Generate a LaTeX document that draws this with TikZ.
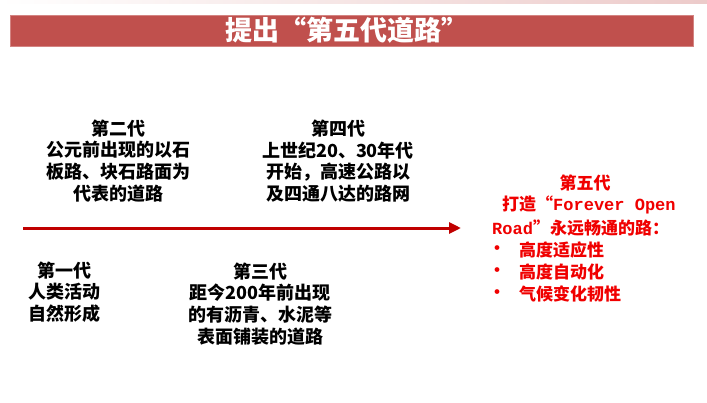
\documentclass[tikz,border=0pt]{standalone}
\usepackage{fontspec}
\setmainfont{Noto Sans CJK SC}
\newfontfamily\monofnt{Liberation Mono}
\usetikzlibrary{arrows.meta}
\definecolor{barred}{HTML}{C0504D}
\definecolor{arrowred}{HTML}{C00000}
\definecolor{txtred}{HTML}{F00000}
\tikzset{
  blk/.style={align=center, inner sep=0pt, font=\fontsize{18}{21.7}\selectfont\bfseries, text=black},
  redln/.style={anchor=west, inner sep=0pt, font=\fontsize{17}{21.7}\selectfont\bfseries, text=txtred},
}
\begin{document}
\begin{tikzpicture}[x=1pt,y=-1pt]
\useasboundingbox (0,0) rectangle (707,402);
\fill[white] (0,0) rectangle (707,402);
\shade[left color=white, right color=barred!30] (0,0) rectangle (707,3);
\node[fill=barred, draw=barred!70, minimum width=683pt, minimum height=31pt, inner sep=0pt] (bar) at (351.5,30.5) {};
\node[inner sep=0pt, font=\fontsize{27}{29}\selectfont\bfseries, text=white] (title) at (347,30.5) {提出“第五代道路”};

\coordinate (s) at (23,228);
\coordinate (e) at (461,228);
\draw[arrowred, line width=3pt, -{Triangle[length=12pt,width=11pt]}] (s) -- (e);

\node[blk] (g2) at (118,161) {第二代\\公元前出现的以石\\板路、块石路面为\\代表的道路};
\node[blk] (g4) at (338,161) {第四代\\上世纪20、30年代\\开始，高速公路以\\及四通八达的路网};
\node[blk] (g1) at (64,292) {第一代\\人类活动\\自然形成};
\node[blk] (g3) at (260,304) {第三代\\距今200年前出现\\的有沥青、水泥等\\表面铺装的道路};

\node[redln, anchor=center] (g5) at (585,183) {第五代};
\node[redln] (g5a) at (502,205) {打造“{\monofnt\bfseries Forever Open}};
\node[redln] (g5b) at (492,228) {{\monofnt\bfseries Road}”永远畅通的路：};
\node[redln, anchor=center] (b1) at (497,250) {•};
\node[redln] (t1) at (519,250) {高度适应性};
\node[redln, anchor=center] (b2) at (497,272) {•};
\node[redln] (t2) at (519,272) {高度自动化};
\node[redln, anchor=center] (b3) at (497,294) {•};
\node[redln] (t3) at (519,294) {气候变化韧性};
\end{tikzpicture}
\end{document}
